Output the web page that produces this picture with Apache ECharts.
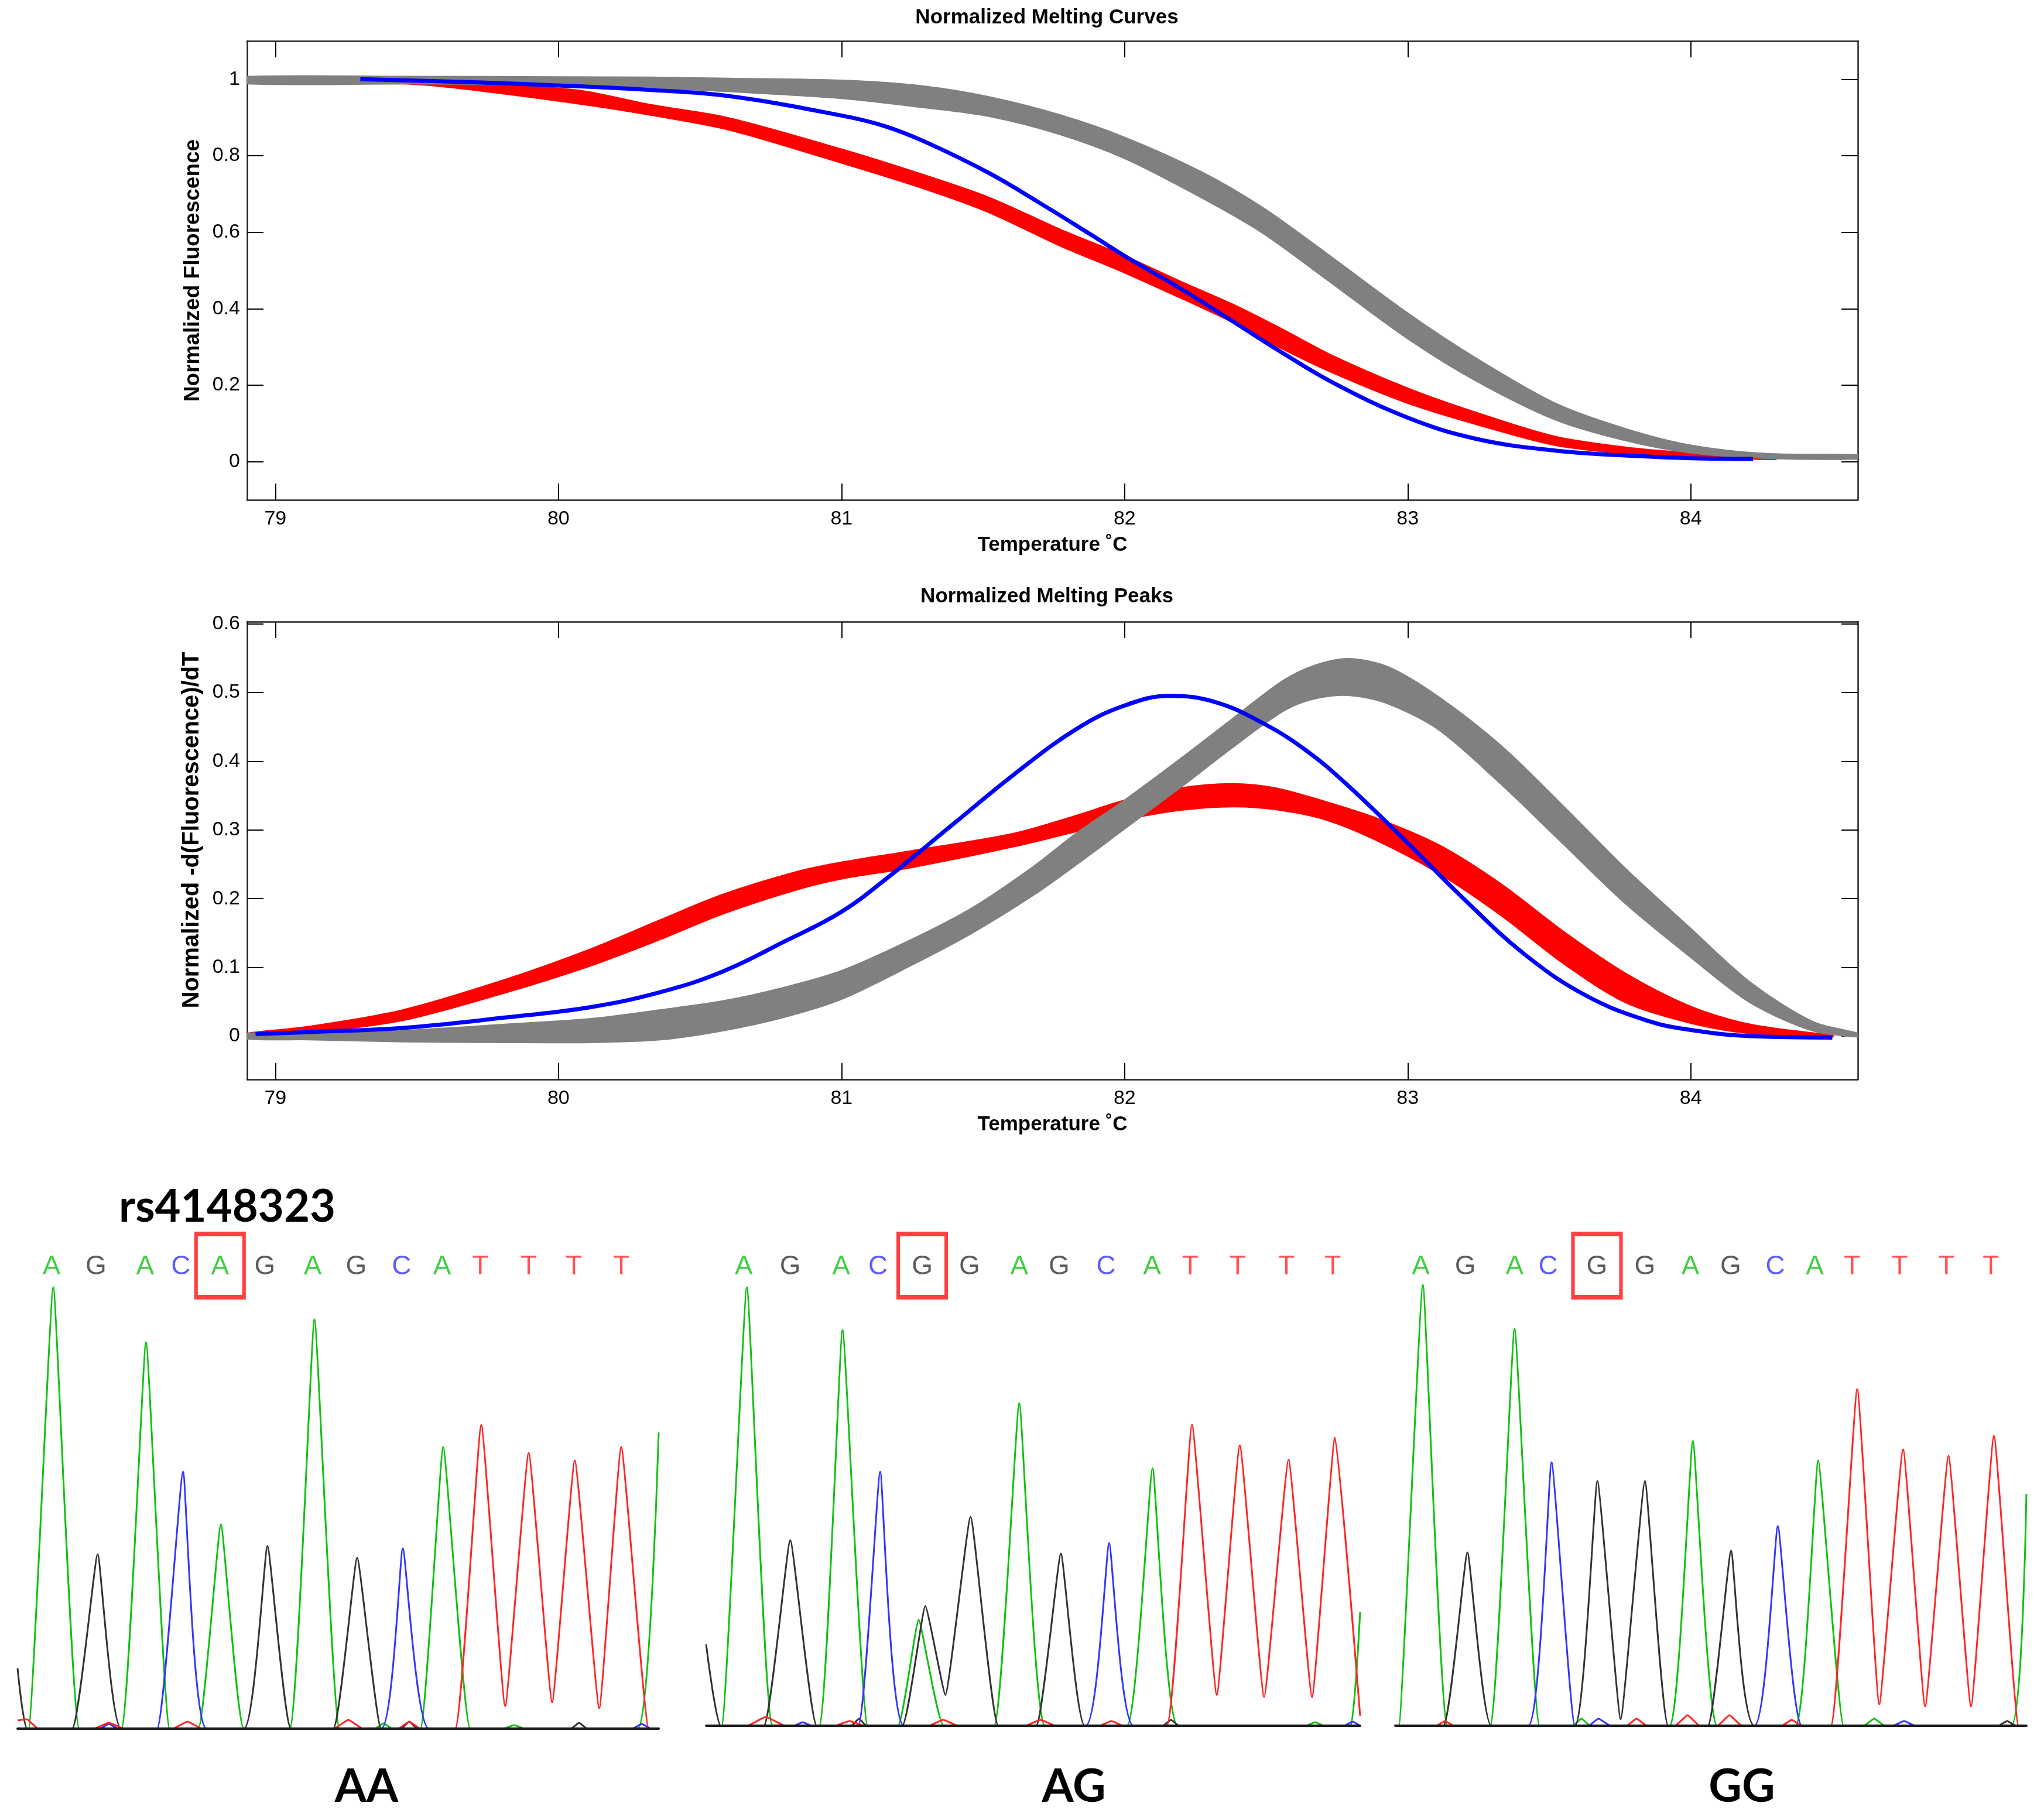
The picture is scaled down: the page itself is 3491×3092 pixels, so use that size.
<!DOCTYPE html>
<html>
<head>
<meta charset="utf-8">
<script src="https://cdn.jsdelivr.net/npm/echarts@6/dist/echarts.min.js"></script>
<style>
html, body { margin: 0; padding: 0; background: #fff; }
#chart { width: 3491px; height: 3092px; }
</style>
</head>
<body>
<div id="chart"></div>
<script>
// ---------- tick labels ----------
const tempTicks = [79, 80, 81, 82, 83, 84];
const curveTicks = [0, 0.2, 0.4, 0.6, 0.8, 1];
const peakTicks = [0, 0.1, 0.2, 0.3, 0.4, 0.5, 0.6];

// ---------- normalized melting curves ----------
const curveGrayT = [78.9, 79.5, 80.0, 80.32, 80.6, 81.0, 81.29, 81.52, 81.77, 82.0, 82.27, 82.49, 82.71, 83.0, 83.24, 83.52, 83.77, 84.0, 84.27, 84.59];
const curveGrayUpper = [1.005, 1.005, 1.004, 1.003, 1.0, 0.995, 0.98, 0.952, 0.905, 0.846, 0.756, 0.661, 0.544, 0.386, 0.269, 0.151, 0.084, 0.041, 0.019, 0.016];
const curveGrayLower = [0.99, 0.99, 0.987, 0.98, 0.97, 0.952, 0.928, 0.905, 0.858, 0.795, 0.693, 0.599, 0.481, 0.324, 0.214, 0.112, 0.057, 0.025, 0.011, 0.009];

const curveRedT = [79.25, 79.56, 80.06, 80.32, 80.6, 81.0, 81.29, 81.52, 81.77, 82.0, 82.21, 82.38, 82.55, 82.74, 83.0, 83.24, 83.52, 83.8, 84.0, 84.3];
const curveRedUpper = [1.0, 0.993, 0.97, 0.932, 0.897, 0.815, 0.748, 0.689, 0.606, 0.536, 0.465, 0.41, 0.347, 0.273, 0.19, 0.127, 0.064, 0.033, 0.021, 0.009];
const curveRedLower = [0.997, 0.985, 0.939, 0.909, 0.87, 0.783, 0.716, 0.654, 0.567, 0.496, 0.426, 0.367, 0.30, 0.233, 0.155, 0.10, 0.045, 0.021, 0.013, 0.008];

const curveBlueT = [79.3, 79.7, 80.02, 80.32, 80.6, 81.0, 81.15, 81.29, 81.52, 81.71, 81.88, 82.0, 82.21, 82.38, 82.55, 82.74, 83.0, 83.24, 83.52, 83.8, 84.0, 84.22];
const curveBlue = [1.0, 0.992, 0.983, 0.972, 0.956, 0.905, 0.878, 0.838, 0.755, 0.672, 0.594, 0.538, 0.447, 0.368, 0.288, 0.205, 0.115, 0.06, 0.029, 0.015, 0.009, 0.007];

// ---------- normalized melting peaks ----------
const peakGrayT = [78.9, 79.12, 79.45, 79.81, 80.11, 80.36, 80.58, 80.8, 81.0, 81.24, 81.46, 81.68, 81.83, 82.0, 82.2, 82.38, 82.56, 82.67, 82.79, 82.93, 83.11, 83.33, 83.55, 83.77, 84.0, 84.21, 84.43, 84.59];
const peakGrayUpper = [0.003, 0.003, 0.007, 0.016, 0.024, 0.037, 0.05, 0.07, 0.094, 0.138, 0.185, 0.246, 0.294, 0.342, 0.403, 0.46, 0.516, 0.538, 0.548, 0.536, 0.492, 0.421, 0.333, 0.242, 0.155, 0.077, 0.02, 0.003];
const peakGrayLower = [-0.003, -0.004, -0.007, -0.008, -0.008, -0.004, 0.009, 0.029, 0.055, 0.103, 0.151, 0.207, 0.251, 0.303, 0.364, 0.421, 0.474, 0.492, 0.497, 0.485, 0.447, 0.368, 0.281, 0.194, 0.116, 0.05, 0.009, 0.0];

const peakRedT = [78.9, 79.12, 79.45, 79.81, 80.11, 80.36, 80.58, 80.84, 81.0, 81.24, 81.61, 81.83, 82.0, 82.2, 82.38, 82.53, 82.71, 82.89, 83.11, 83.33, 83.55, 83.77, 84.0, 84.21, 84.5];
const peakRedUpper = [0.003, 0.013, 0.037, 0.081, 0.125, 0.168, 0.205, 0.238, 0.252, 0.268, 0.294, 0.32, 0.342, 0.36, 0.366, 0.36, 0.34, 0.316, 0.277, 0.22, 0.151, 0.09, 0.042, 0.016, 0.0];
const peakRedLower = [0.0, 0.006, 0.024, 0.064, 0.103, 0.142, 0.179, 0.214, 0.23, 0.246, 0.277, 0.299, 0.316, 0.33, 0.335, 0.331, 0.316, 0.286, 0.238, 0.177, 0.107, 0.05, 0.02, 0.005, 0.0];

const peakBlueT = [78.93, 79.12, 79.45, 79.81, 80.11, 80.36, 80.58, 80.8, 81.0, 81.17, 81.39, 81.61, 81.83, 82.0, 82.16, 82.32, 82.49, 82.64, 82.78, 83.0, 83.19, 83.41, 83.63, 83.85, 84.0, 84.21, 84.5];
const peakBlue = [0.003, 0.006, 0.012, 0.027, 0.042, 0.064, 0.094, 0.138, 0.181, 0.233, 0.307, 0.381, 0.447, 0.481, 0.495, 0.486, 0.455, 0.416, 0.368, 0.281, 0.203, 0.12, 0.059, 0.022, 0.009, 0.0, -0.002];

// ---------- sequencing traces: [scan position, signal] ----------
const p1Green = [[0,0],[18.6,0],[61,754],[105.6,0],[177,0],[219.4,660],[260,0],[308.6,0],[347.3,349],[386.7,0],[464.7,0],[507.1,699],[550,0],[610,0],[625,9],[640,0],[687.8,0],[727,481],[773.3,0],[830,0],[848,6],[866,0],[1059.5,0],[1095,506]];
const p1Black = [[0,103],[16.4,0],[93,0],[136.8,298],[177,0],[386.7,0],[426.8,312],[467,0],[539,0],[580,292],[621,0],[655,0],[669,12],[683,0],[945,0],[959,10],[973,0],[1095,0]];
const p1Blue = [[0,0],[140,0],[156,8],[172,0],[238,0],[282.6,439],[323,0],[621,0],[658,308],[702.6,0],[1050,0],[1066,8],[1082,0],[1095,0]];
const p1Red = [[0,14],[16,16],[35,0],[130,0],[156,10],[182,0],[265,0],[290,12],[315,0],[540,0],[565,15],[590,0],[650,0],[669,12],[688,0],[747.3,0],[791.9,519],[832.8,38.5],[873,471],[913,45],[951.7,458],[993.4,35],[1031,481],[1078,0],[1095,0]];

const p2Green = [[0,0],[26.5,0],[69.6,749],[113.4,0],[192.9,0],[233,676],[276.1,0],[327.5,0],[363,181],[406,0],[491.6,0],[534.8,551],[578.6,0],[718.6,0],[762.5,440],[805.6,0],[1025,0],[1040,6],[1055,0],[1100.6,0],[1117,194]];
const p2Black = [[0,139],[25,0],[98.3,0],[143.7,317],[189.1,0],[248,0],[261,12],[274,0],[335,0],[374.4,204.5],[408.5,52.6],[451.6,357],[499.2,0],[563.5,0],[605.9,294],[646.7,0],[780,0],[794,10],[808,0],[1117,0]];
const p2Blue = [[0,0],[150,0],[165,6],[180,0],[259.4,0],[297.3,434],[338.1,0],[648.2,0],[688.3,312],[730,0],[1090,0],[1104,7],[1117,0]];
const p2Red = [[0,0],[70,0],[102,15],[135,0],[220,0],[245,8],[270,0],[380,0],[405,10],[430,0],[545,0],[571,10],[597,0],[672,0],[692,8],[712,0],[786.7,0],[829.8,514],[872.2,52.6],[911.5,479],[953,49],[994.7,454.5],[1034.8,49],[1074,492],[1117,17]];

const p3Green = [[0,0],[6,0],[47.1,753],[89.2,0],[161.7,0],[203.8,678],[246.6,0],[303,0],[318,12],[333,0],[468.5,0],[508.3,486.5],[549.7,0],[683.8,0],[722.3,453],[765.8,0],[800,0],[818,12],[836,0],[1052.2,0],[1078,396]];
const p3Black = [[0,0],[82,0],[123.3,296],[164,0],[306.7,0],[345.2,418],[385,11],[426.4,418],[466.3,0],[533.7,0],[573.6,299],[613.5,0],[1030,0],[1045,8],[1060,0],[1078,0]];
const p3Blue = [[0,0],[227,0],[266.9,450],[306.7,0],[330,0],[347,12],[368,0],[613.5,0],[653.4,341],[694.7,0],[850,0],[869,8],[888,0],[1078,0]];
const p3Red = [[0,0],[70,0],[85,8],[100,0],[395,0],[412,12],[430,0],[478,0],[499,18],[520,0],[550,0],[571,18],[592,0],[660,0],[677,10],[694,0],[744,0],[789,575],[826.7,36.5],[867.3,472],[905,33],[944.9,461],[983.3,33],[1022.5,495],[1064.5,0],[1078,0]];

// base calls and their scan positions
const p1Calls = ['A','G','A','C','A','G','A','G','C','A','T','T','T','T'];
const p2Calls = ['A','G','A','C','G','G','A','G','C','A','T','T','T','T'];
const p3Calls = ['A','G','A','C','G','G','A','G','C','A','T','T','T','T'];
const p1CallPos = [58, 133.9, 217.9, 278.9, 345.8, 422.3, 504.1, 578.5, 655.8, 725, 790.4, 873, 950, 1031];
const p2CallPos = [64.3, 143.7, 230.7, 293.5, 369.1, 450, 534.8, 602.8, 683, 761.7, 826.8, 907.7, 991, 1070.3];
const p3CallPos = [43.5, 119.7, 203.8, 261.1, 344.5, 426.4, 504, 572.9, 649, 716.5, 780.3, 861.5, 941.3, 1017.4];
const snpIndex = 4;
const genotypes = ['AA', 'AG', 'GG'];
const snpName = 'rs4148323';

// ---------- styling ----------
const FONT = 'Liberation Sans, Arial, sans-serif';
const BOLD_FONT = 'Lato, Open Sans, sans-serif';
const GRAY = '#808080', RED = '#ff0000', BLUE = '#0000ff';
const baseColor = { A: '#12c012', G: '#333333', C: '#3535ff', T: '#ff2525' };

const chart = echarts.init(document.getElementById('chart'));

const pairs = (t, v) => t.map((x, i) => [x, v[i]]);

// a band of overlapping runs: filled between its lower and upper edge
function band(t, lo, up, color, ax) {
  return {
    type: 'custom', xAxisIndex: ax, yAxisIndex: ax, silent: true, clip: true,
    data: t.map((x, i) => [x, lo[i], up[i]]),
    encode: { x: 0, y: [1, 2] },
    renderItem: function (params, api) {
      if (params.dataIndex !== 0) return null;
      const pts = [];
      for (let i = 0; i < t.length; i++) pts.push(api.coord([t[i], up[i]]));
      for (let i = t.length - 1; i >= 0; i--) pts.push(api.coord([t[i], lo[i]]));
      return {
        type: 'polygon',
        shape: { points: pts, smooth: 0.3 },
        style: { fill: color, stroke: color, lineWidth: 5, lineJoin: 'round' }
      };
    }
  };
}
function curve(t, v, color, ax) {
  return {
    type: 'line', xAxisIndex: ax, yAxisIndex: ax, data: pairs(t, v),
    showSymbol: false, smooth: 0.4, silent: true,
    lineStyle: { color: color, width: 7 }
  };
}

const tickStyle = { color: '#000', width: 2 };
const lineStyle = { color: '#222', width: 2.5 };

function boxX(grid, showLabels, pos) {
  return {
    type: 'value', gridIndex: grid, position: pos, min: 78.9, max: 84.59,
    name: showLabels ? 'Temperature \u02DAC' : '', nameLocation: 'middle', nameGap: 60,
    nameTextStyle: { fontFamily: FONT, fontSize: 35, fontWeight: 'bold', color: '#000' },
    axisLine: { show: true, onZero: false, lineStyle: lineStyle },
    axisTick: { show: true, inside: true, length: 28, customValues: tempTicks, lineStyle: tickStyle },
    axisLabel: { show: showLabels, customValues: tempTicks, margin: 16, fontFamily: FONT, fontSize: 34, color: '#000' },
    splitLine: { show: false }
  };
}
function boxY(grid, min, max, ticks, name, pos, nameSize, nameShift) {
  return {
    type: 'value', gridIndex: grid, position: pos, min: min, max: max,
    name: name, nameLocation: 'middle', nameGap: 74, nameRotate: 90,
    nameTextStyle: { fontFamily: FONT, fontSize: nameSize || 37, fontWeight: 'bold', color: '#000', padding: [0, 0, 0, nameShift || 0] },
    axisLine: { show: true, onZero: false, lineStyle: lineStyle },
    axisTick: { show: true, inside: true, length: 28, customValues: ticks, lineStyle: tickStyle },
    axisLabel: { show: pos === 'left', customValues: ticks, margin: 12, fontFamily: FONT, fontSize: 34, color: '#000' },
    splitLine: { show: false }
  };
}

// sequencing panels layout
const panels = [
  { left: 30, width: 1095, baseline: 2953, traces: [p1Green, p1Black, p1Blue, p1Red], calls: p1Calls, pos: p1CallPos, gx: 626 },
  { left: 1206, width: 1117, baseline: 2948, traces: [p2Green, p2Black, p2Blue, p2Red], calls: p2Calls, pos: p2CallPos, gx: 1834 },
  { left: 2383, width: 1078, baseline: 2948, traces: [p3Green, p3Black, p3Blue, p3Red], calls: p3Calls, pos: p3CallPos, gx: 2975 }
];
const traceColors = [baseColor.A, baseColor.G, baseColor.C, baseColor.T];
const PANEL_TOP = 2100, CALL_ROW_Y = 2164, BOX_Y = 2162;

const grids = [
  { left: 422, width: 2751, top: 70, height: 784 },
  { left: 422, width: 2751, top: 1062, height: 782 }
];
const xAxes = [boxX(0, true, 'bottom'), boxX(0, false, 'top'), boxX(1, true, 'bottom'), boxX(1, false, 'top')];
const yAxes = [
  boxY(0, -0.1, 1.1, curveTicks, 'Normalized Fluorescence', 'left', 37, 0),
  boxY(0, -0.1, 1.1, curveTicks, '', 'right'),
  boxY(1, -0.063, 0.603, peakTicks, 'Normalized -d(Fluorescence)/dT', 'left', 40, 70),
  boxY(1, -0.063, 0.603, peakTicks, '', 'right')
];

const series = [
  band(curveRedT, curveRedLower, curveRedUpper, RED, 0),
  curve(curveBlueT, curveBlue, BLUE, 0),
  band(curveGrayT, curveGrayLower, curveGrayUpper, GRAY, 0),
  band(peakRedT, peakRedLower, peakRedUpper, RED, 2),
  band(peakGrayT, peakGrayLower, peakGrayUpper, GRAY, 2),
  curve(peakBlueT, peakBlue, BLUE, 2)
];

const titles = [
  { text: 'Normalized Melting Curves', left: 1788, top: 30 },
  { text: 'Normalized Melting Peaks', left: 1788, top: 1019 }
].map(t => Object.assign(t, {
  textAlign: 'center', textVerticalAlign: 'middle', padding: 0,
  textStyle: { fontFamily: FONT, fontSize: 35, fontWeight: 'bold', color: '#000' }
}));
titles.push({
  text: snpName, left: 388, top: 2062, textAlign: 'center', textVerticalAlign: 'middle', padding: 0,
  textStyle: { fontFamily: BOLD_FONT, fontSize: 76, fontWeight: 'bold', color: '#000' }
});

panels.forEach((p, k) => {
  const gi = grids.length;
  const ai = xAxes.length;
  const h = p.baseline - PANEL_TOP;
  grids.push({ left: p.left, width: p.width, top: PANEL_TOP, height: h });
  xAxes.push({
    type: 'value', gridIndex: gi, min: 0, max: p.width, z: 10,
    axisLine: { show: true, onZero: false, lineStyle: { color: '#1a1a1a', width: 4 } },
    axisTick: { show: false }, axisLabel: { show: false }, splitLine: { show: false }
  });
  yAxes.push({ type: 'value', gridIndex: gi, min: 0, max: h, show: false, splitLine: { show: false } });

  p.traces.forEach((tr, c) => {
    series.push({
      type: 'line', xAxisIndex: ai, yAxisIndex: ai, data: tr, showSymbol: false,
      smooth: 0.12, silent: true, lineStyle: { color: traceColors[c], width: 3 }
    });
  });
  series.push({
    type: 'scatter', xAxisIndex: ai, yAxisIndex: ai, symbolSize: 1, silent: true,
    itemStyle: { color: 'rgba(0,0,0,0)' },
    label: { show: true, position: 'inside', formatter: '{b}', fontFamily: FONT, fontSize: 46 },
    data: p.calls.map((b, i) => ({ name: b, value: [p.pos[i], p.baseline - CALL_ROW_Y], label: { color: baseColor[b] } }))
  });
  series.push({
    type: 'scatter', xAxisIndex: ai, yAxisIndex: ai, symbol: 'rect', symbolSize: [82, 108], silent: true,
    itemStyle: { color: 'rgba(0,0,0,0)', borderColor: '#ff1010', borderWidth: 7 },
    data: [[p.pos[snpIndex], p.baseline - BOX_Y]]
  });
  titles.push({
    text: genotypes[k], left: p.gx, top: 3053, textAlign: 'center', textVerticalAlign: 'middle', padding: 0,
    textStyle: { fontFamily: BOLD_FONT, fontSize: 78, fontWeight: 'bold', color: '#000' }
  });
});

chart.setOption({
  animation: false,
  backgroundColor: '#fff',
  title: titles,
  grid: grids,
  xAxis: xAxes,
  yAxis: yAxes,
  series: series
});
</script>
</body>
</html>
